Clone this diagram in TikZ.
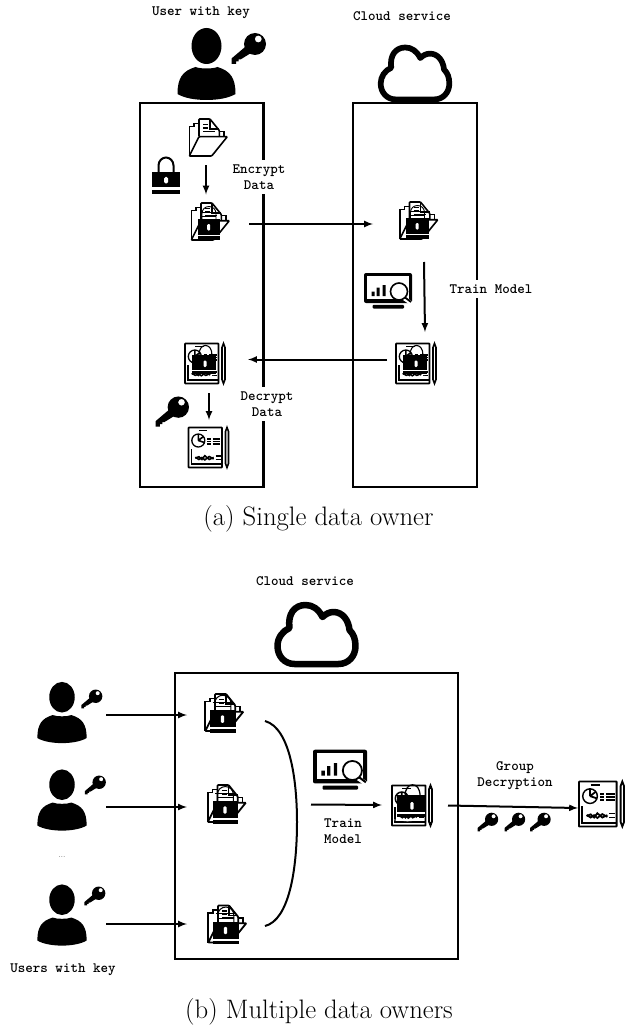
\documentclass[tikz,border=0pt]{standalone}
\usepackage{color}
\usepackage{tikz}
\usetikzlibrary{arrows}
\tikzstyle{frame}=[draw=black, line width=2.3pt, inner sep=0pt, fill=white]
\tikzstyle{iconbox}=[inner sep=0pt, outer sep=0pt]
\tikzstyle{flow}=[draw=black, line width=2pt, -latex]
\tikzstyle{tag}=[font=\fontsize{14.3}{16}\selectfont\ttfamily\bfseries, align=center, fill=white, inner sep=5pt]
\tikzstyle{caption}=[font=\fontsize{26.7}{30}\selectfont, inner sep=0pt]
\def\iconw{1}
\tikzset{
	filepic/.pic={
		\draw[rounded corners=0.8pt] (-9,-1) -- (-9,-18.5) -- (2,-18.5) -- (11.3,-7) -- (11.3,-1);
		\draw (2,-18.5) -- (2,-8.5) -- (11.3,-8.5);
		\draw (11.3,-6) -- (16,-6) -- (16,-1);
		\draw (-5,-13) -- (0,-13) (-5,-9.5) -- (0,-9.5) (-5,-6) -- (7,-6);
		\draw (-9,-14) -- (-14,-14) -- (-14,-11) -- (-18.7,-11) -- (-18.7,18.5);
		\draw[fill=white, rounded corners=0.8pt] (-18.7,18.5) -- (3.7,18.5) -- (19.3,-0.8) -- (-9,-0.8) -- cycle;
	},
	lockedfile/.pic={
		\pic {filepic};
		\draw[line width=\iconw*0.9pt] (-8,-2) -- (-8,-8) .. controls (-8,-12) and (-5,-15) .. (-1,-15) .. controls (3,-15) and (6,-12) .. (6,-8) -- (6,-2);
		\draw[line width=\iconw*0.7pt] (-10,-9) -- (8,-9) (-8,-5) -- (6,-5);
		\fill (-12.2,-2.2) rectangle (10.4,18);
		\fill[white] (-12.2,13) rectangle (10.4,14.6);
		\fill[white, rounded corners=1.2pt] (-2.8,2.5) rectangle (0.2,9);
	},
	padlock/.pic={
		\draw[line width=\iconw*2pt] (-7.5,-3.5) -- (-7.5,-10) .. controls (-7.5,-14.5) and (-4,-18) .. (0,-18) .. controls (4,-18) and (7.5,-14.5) .. (7.5,-10) -- (7.5,-3.5);
		\fill (-14,-3.5) rectangle (14,18.5);
		\fill[white] (-14,12) rectangle (14,14);
		\fill[white, rounded corners=1.5pt] (-2,1.5) rectangle (2,8);
	},
	reportpic/.pic={
		\draw[line width=\iconw*1.7pt, rounded corners=0.6pt] (-20,-20) rectangle (13.5,20);
		\draw (17,-16) -- (18.5,-20) -- (20,-16) -- (20,16) -- (18.5,20) -- (17,16) -- cycle;
		\draw[line width=\iconw*1.3pt] (-9.6,-17) -- (-1.3,-17);
		\draw[line width=\iconw*1.3pt] (-10.2,-7) circle (6.5);
		\draw (-10.2,-7) -- (-5,-11) (-10.2,-7) -- (-10.2,-13.5) (-10.2,-7) -- (-4,-5);
		\draw (-1.3,-8.6) -- (2,-8.6) (4,-8.6) -- (11.7,-8.6) (-1.3,-6) -- (2,-6) (4,-6) -- (11.7,-6) (-1.3,-3.5) -- (2,-3.5) (4,-3.5) -- (11.7,-3.5);
		\draw (-17,1.8) -- (-17,16.6) -- (12.6,16.6);
		\draw (-13.2,10.7) -- (-9.6,9.2) -- (-6.6,12) -- (-3.7,8.2) -- (0.7,12) -- (5.2,9.9);
		\draw (-13.2,9.7) -- (-9.6,12) -- (-6.6,10) -- (-3.7,12.4) -- (0.7,9) -- (5.2,11.5);
		\draw (7,8.5) -- (12,8.5) (7,12) -- (12,12);
	},
	lockedreport/.pic={
		\pic {reportpic};
		\draw[line width=\iconw*1.1pt] (-6,-8) .. controls (-6,-15) and (-3,-18) .. (0.5,-18) .. controls (4,-18) and (7,-15) .. (7,-8);
		\fill (-13,-9) rectangle (11.3,10);
		\fill[white] (-13,6) rectangle (11.3,7.5);
		\fill[white, rounded corners=1.2pt] (-1.5,-3) rectangle (1.5,3.5);
		\draw[white, line width=\iconw*0.5pt] (-16,12.5) -- (-4,13.5) -- (9,12.5);
	},
	monitor/.pic={
		\fill[rounded corners=2pt] (-24,-18.5) rectangle (24,11.5);
		\fill[white] (-20.8,-15.3) rectangle (20.8,7.5);
		\fill[rounded corners=1pt] (-15.5,17) rectangle (16,13.4);
		\fill (-16.5,0) rectangle (-13.5,4.5) (-11.5,-4) rectangle (-8.5,4.5) (-5.5,-6.5) rectangle (-2.5,4.5);
		\draw[white, line width=\iconw*4pt] (15,6) -- (25,13);
		\draw[line width=\iconw*1.8pt] (17,6) -- (23,10.5);
		\draw[fill=white, line width=\iconw*1.6pt] (11,0) circle (8.5);
	},
	userpic/.pic={
		\fill (0,-18) ellipse (15 and 18);
		\fill (-29,30) .. controls (-29,14) and (-24,7) .. (-11,3) .. controls (-6,5) and (6,5) .. (11,3) .. controls (24,7) and (29,14) .. (29,30) .. controls (16,38) and (-16,38) .. (-29,30) -- cycle;
	},
	keypic/.pic={
		\fill (-1,-4) -- (-17.5,10) -- (-17.5,15.5) -- (-13,15.5) -- (-13,13) -- (-10.5,13) -- (-10.5,11) -- (-8.5,11) -- (6,2) -- cycle;
		\fill[even odd rule] (6,-4.5) circle (11) (9.3,-9.5) circle (3.5);
	},
	cloudpic/.pic={
		\draw[line width=\iconw*6.5pt, line join=round] (-22,30) -- (22,30) .. controls (32,30) and (39,22) .. (39,12) .. controls (39,5) and (37,0) .. (33,-4) .. controls (32,-14) and (26,-22) .. (17,-22) .. controls (13,-22) and (9,-20) .. (6,-17) .. controls (2,-25) and (-4,-29) .. (-11,-29) .. controls (-22,-29) and (-29,-20) .. (-27,-6) .. controls (-34,-3) and (-39,4) .. (-39,12) .. controls (-39,22) and (-32,30) .. (-22,30) -- cycle;
	}
}
\newcommand{\iconat}[4]{
	\def\iconw{#3}
	\node[iconbox, minimum size=#3*40pt](#1) at (#2) {};
	\pic[scale=#3, line width=#3*1.6pt] at (#1) {#4};
}

\begin{document}
\begin{tikzpicture}[x=1pt, y=-1pt]
		\useasboundingbox (0,0) rectangle (624,1027);

		\node[frame, minimum width=123.5pt, minimum height=384pt](ownerbox) at (201.6,295) {};
		\node[frame, minimum width=123.5pt, minimum height=384pt](cloudbox) at (415,295) {};
		\node[frame, minimum width=283pt, minimum height=286pt](groupbox) at (316.7,816) {};

		\node[tag](userlabel) at (201,13) {User with key};
		\node[tag](cloudlabel) at (402,16) {Cloud service};
		\node[tag](encryptlabel) at (259,177) {Encrypt\\Data};
		\node[tag](trainlabel) at (491,289) {Train Model};
		\node[tag](decryptlabel) at (267,404) {Decrypt\\Data};
		\node[tag](cloudlabelb) at (305,581) {Cloud service};
		\node[tag](grouplabel) at (515,776) {Group\\Decryption};
		\node[tag](trainlabelb) at (343,831) {Train\\Model};
		\node[tag](userslabel) at (63,970) {Users with key};
		\node[inner sep=0pt, font=\fontsize{7}{8}\selectfont](dots) at (62,857) {...};
		\node[caption](captiona) at (318.5,519) {(a) Single data owner};
		\node[caption](captionb) at (319,1012) {(b) Multiple data owners};

		\iconat{user}{206.5,64}{1}{userpic}
		\iconat{userkey}{249,48.5}{1}{keypic}
		\iconat{cloud}{415,73}{0.88}{cloudpic}
		\iconat{fileplain}{208,137.5}{1}{filepic}
		\iconat{padlock}{166,175.5}{1}{padlock}
		\iconat{fileleft}{210,221.5}{1}{lockedfile}
		\iconat{fileright}{418.5,220.5}{1}{lockedfile}
		\iconat{screen}{388,291.5}{1}{monitor}
		\iconat{modelright}{416,363.5}{1}{lockedreport}
		\iconat{modelleft}{205,363.5}{1}{lockedreport}
		\iconat{bigkey}{172.5,411.5}{0.97}{keypic}
		\iconat{reportleft}{208.5,447.5}{1}{reportpic}

		\iconat{cloudb}{316.5,634}{1}{cloudpic}
		\iconat{usera}{62,712.5}{0.85}{userpic}
		\iconat{userb}{62,800}{0.85}{userpic}
		\iconat{userc}{62,915}{0.85}{userpic}
		\iconat{keya}{92,699}{0.61}{keypic}
		\iconat{keyb}{95.5,785}{0.61}{keypic}
		\iconat{keyc}{95,896}{0.61}{keypic}
		\iconat{filea}{224,712.5}{1.15}{lockedfile}
		\iconat{fileb}{226.5,803.5}{1.13}{lockedfile}
		\iconat{filec}{227,924}{1.13}{lockedfile}
		\iconat{screenb}{340,770.5}{1.125}{monitor}
		\iconat{modelb}{412,805.5}{1.15}{lockedreport}
		\iconat{reportb}{601.5,804}{1.125}{reportpic}
		\iconat{groupkeya}{488,822}{0.6}{keypic}
		\iconat{groupkeyb}{515,822}{0.6}{keypic}
		\iconat{groupkeyc}{540.5,822}{0.6}{keypic}

		\path[flow] ([shift={(-2,8)}]fileplain.south) -- ([shift={(-4,-7)}]fileleft.north);
		\path[flow] ([shift={(19,2.5)}]fileleft.east) -- ([shift={(-25.5,3.5)}]fileright.west);
		\path[flow] ([shift={(5.5,21.5)}]fileright.south) -- ([shift={(9,-11.5)}]modelright.north);
		\path[flow] ([shift={(-9,-4)}]modelright.west) -- ([shift={(23,-4)}]modelleft.east);
		\path[flow] ([shift={(4,9.5)}]modelleft.south) -- ([shift={(0.5,-7.5)}]reportleft.north);

		\path[flow] ([shift={(27,2.5)}]usera.east) -- ([shift={(-14,2.5)}]filea.west);
		\path[flow] ([shift={(27,7)}]userb.east) -- ([shift={(-17,3.5)}]fileb.west);
		\path[flow] ([shift={(27,9)}]userc.east) -- ([shift={(-17.4,0)}]filec.west);
		\path[flow] ([shift={(-29,11.5)}]screenb.south) -- ([shift={(-7,-0.5)}]modelb.west);
		\path[flow] ([shift={(13,0)}]modelb.east) -- ([shift={(-1,4)}]reportb.west);
		\path[draw=black, line width=2pt]
			([shift={(18,8.5)}]filea.east) .. controls (290,728) and (297,780) .. (297,822) .. controls (297,870) and (289,920) .. ([shift={(15.4,2)}]filec.east);
	\end{tikzpicture}
\end{document}
